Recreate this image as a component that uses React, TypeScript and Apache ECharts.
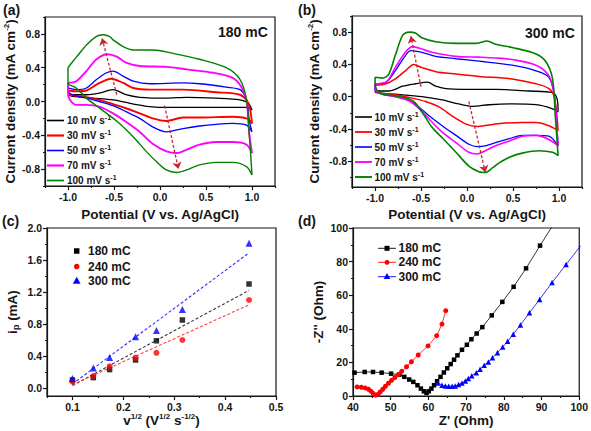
import React, { useEffect, useRef } from 'react';
import * as echarts from 'echarts';

const FONT = '"Liberation Sans", Arial, Helvetica, sans-serif';
const INK = '#151515';

// ---------- Panels (a) and (b): cyclic voltammograms ----------
const scanRates = ['10', '30', '50', '70', '100'];
const cvColors = ['#000000', '#ff0000', '#0000ff', '#ff00ff', '#008000'];
const cvWidthsA = [1.3, 1.9, 1.3, 1.9, 1.4];
const cvWidthsB = [1.3, 1.5, 1.3, 1.6, 1.6];

// panel (a) 180 mC, [potential V, current density mA cm-2], anodic branch then cathodic branch
const cvA10 = [[-1.0,0.08],[-0.8,0.08],[-0.66,0.1],[-0.51,0.14],[-0.37,0.08],[-0.22,0.05],[0.07,0.04],[0.29,0.05],[0.61,0.04],[0.87,0.02],[0.96,-0.02],[1.0,-0.1],
  [0.94,-0.07],[0.79,-0.07],[0.43,-0.07],[0.07,-0.07],[-0.11,-0.06],[-0.29,-0.03],[-0.51,0.02],[-0.73,0.04],[-0.95,0.06],[-1.0,0.08]];
const cvA30 = [[-1.0,0.13],[-0.91,0.12],[-0.8,0.13],[-0.69,0.2],[-0.53,0.27],[-0.4,0.22],[-0.29,0.16],[-0.11,0.14],[0.25,0.14],[0.61,0.11],[0.87,0.08],[0.96,-0.02],[1.0,-0.26],
  [0.94,-0.2],[0.79,-0.18],[0.43,-0.19],[0.25,-0.19],[0.07,-0.23],[-0.08,-0.2],[-0.22,-0.14],[-0.37,-0.08],[-0.51,-0.03],[-0.66,0.02],[-0.84,0.06],[-0.98,0.08],[-1.0,0.13]];
const cvA50 = [[-1.0,0.16],[-0.91,0.14],[-0.8,0.16],[-0.69,0.26],[-0.58,0.34],[-0.51,0.36],[-0.4,0.3],[-0.29,0.24],[-0.11,0.21],[0.25,0.22],[0.43,0.21],[0.72,0.17],[0.87,0.14],[0.94,0.02],[0.97,-0.22],[1.0,-0.36],
  [0.94,-0.28],[0.79,-0.26],[0.61,-0.27],[0.43,-0.29],[0.25,-0.32],[0.07,-0.36],[-0.08,-0.3],[-0.22,-0.2],[-0.37,-0.12],[-0.51,-0.05],[-0.66,0.0],[-0.8,0.04],[-0.95,0.08],[-1.0,0.12],[-1.0,0.16]];
const cvA70 = [[-1.0,0.22],[-0.91,0.24],[-0.8,0.36],[-0.69,0.5],[-0.57,0.56],[-0.47,0.53],[-0.37,0.46],[-0.22,0.42],[0.07,0.41],[0.29,0.38],[0.58,0.34],[0.79,0.28],[0.88,0.18],[0.94,0.02],[0.97,-0.38],[1.0,-0.61],
  [0.94,-0.51],[0.79,-0.48],[0.61,-0.48],[0.43,-0.51],[0.29,-0.57],[0.18,-0.61],[0.07,-0.59],[-0.08,-0.5],[-0.22,-0.36],[-0.37,-0.24],[-0.51,-0.14],[-0.66,-0.06],[-0.8,-0.04],[-0.91,-0.04],[-0.98,0.02],[-1.0,0.1],[-1.0,0.22]];
const cvA100 = [[-1.0,0.4],[-0.95,0.47],[-0.89,0.55],[-0.8,0.67],[-0.69,0.77],[-0.62,0.79],[-0.55,0.77],[-0.51,0.73],[-0.4,0.65],[-0.29,0.61],[-0.08,0.61],[0.14,0.57],[0.43,0.5],[0.72,0.4],[0.87,0.26],[0.94,0.02],[0.97,-0.38],[1.0,-0.87],
  [0.94,-0.77],[0.79,-0.72],[0.61,-0.72],[0.43,-0.75],[0.29,-0.81],[0.18,-0.84],[0.07,-0.81],[-0.04,-0.71],[-0.15,-0.59],[-0.29,-0.42],[-0.44,-0.26],[-0.58,-0.14],[-0.69,-0.05],[-0.8,0.04],[-0.91,0.16],[-1.0,0.22],[-1.0,0.4]];

// panel (b) 300 mC
const cvB10 = [[-1.0,0.07],[-0.85,0.07],[-0.7,0.13],[-0.56,0.16],[-0.43,0.18],[-0.34,0.13],[-0.23,0.1],[-0.05,0.09],[0.31,0.09],[0.67,0.07],[0.93,0.05],[0.98,-0.03],[0.99,-0.19],
  [0.93,-0.15],[0.75,-0.1],[0.49,-0.09],[0.24,-0.1],[0.06,-0.12],[-0.09,-0.09],[-0.27,-0.04],[-0.49,0.0],[-0.78,0.03],[-0.99,0.05],[-1.0,0.07]];
const cvB30 = [[-1.0,0.14],[-0.88,0.16],[-0.78,0.22],[-0.67,0.32],[-0.58,0.4],[-0.49,0.36],[-0.34,0.31],[-0.12,0.28],[0.13,0.25],[0.49,0.22],[0.75,0.16],[0.89,0.1],[0.95,-0.01],[0.99,-0.42],
  [0.89,-0.36],[0.75,-0.32],[0.6,-0.32],[0.38,-0.33],[0.24,-0.35],[0.11,-0.37],[-0.01,-0.34],[-0.16,-0.24],[-0.3,-0.13],[-0.45,-0.06],[-0.63,-0.01],[-0.81,0.03],[-0.96,0.05],[-1.0,0.14]];
const cvB50 = [[-1.0,0.16],[-0.88,0.18],[-0.78,0.32],[-0.67,0.51],[-0.61,0.57],[-0.49,0.55],[-0.34,0.5],[-0.12,0.47],[0.13,0.44],[0.49,0.39],[0.75,0.32],[0.89,0.24],[0.95,0.01],[0.98,-0.44],[0.99,-0.61],
  [0.89,-0.49],[0.75,-0.48],[0.6,-0.48],[0.46,-0.52],[0.31,-0.57],[0.2,-0.61],[0.11,-0.62],[0.02,-0.59],[-0.12,-0.48],[-0.27,-0.36],[-0.41,-0.24],[-0.52,-0.13],[-0.63,-0.05],[-0.78,0.0],[-0.92,0.03],[-1.0,0.08],[-1.0,0.16]];
const cvB70 = [[-1.0,0.16],[-0.88,0.18],[-0.78,0.36],[-0.67,0.55],[-0.59,0.62],[-0.49,0.59],[-0.38,0.55],[-0.12,0.5],[0.13,0.49],[0.31,0.48],[0.49,0.46],[0.75,0.39],[0.89,0.26],[0.95,0.01],[0.98,-0.44],[0.99,-0.61],
  [0.89,-0.53],[0.75,-0.48],[0.6,-0.49],[0.46,-0.55],[0.31,-0.61],[0.2,-0.67],[0.11,-0.71],[0.02,-0.69],[-0.12,-0.57],[-0.27,-0.44],[-0.41,-0.28],[-0.52,-0.15],[-0.63,-0.05],[-0.78,0.0],[-0.92,0.03],[-1.0,0.08],[-1.0,0.16]];
const cvB100 = [[-1.0,0.24],[-0.92,0.23],[-0.85,0.28],[-0.78,0.51],[-0.7,0.76],[-0.63,0.8],[-0.56,0.79],[-0.49,0.73],[-0.34,0.68],[-0.12,0.66],[0.09,0.66],[0.22,0.69],[0.31,0.65],[0.49,0.61],[0.75,0.53],[0.86,0.43],[0.93,0.22],[0.96,-0.24],[0.99,-0.73],
  [0.93,-0.69],[0.78,-0.67],[0.6,-0.7],[0.46,-0.75],[0.35,-0.82],[0.28,-0.88],[0.2,-0.94],[0.13,-0.93],[0.02,-0.86],[-0.12,-0.69],[-0.27,-0.51],[-0.38,-0.38],[-0.49,-0.19],[-0.59,-0.05],[-0.78,0.01],[-0.92,0.03],[-0.99,0.1],[-1.0,0.24]];

const cvA = [cvA10, cvA30, cvA50, cvA70, cvA100];
const cvB = [cvB10, cvB30, cvB50, cvB70, cvB100];

// dashed guide arrows (start -> end)
const arrowsA = [[[-0.47,0.08],[-0.63,0.75]], [[0.05,-0.05],[0.2,-0.8]]];
const arrowsB = [[[-0.5,0.12],[-0.61,0.75]], [[0.02,-0.06],[0.2,-0.94]]];

// ---------- Panel (c): peak current vs sqrt(scan rate) ----------
const vHalf = [0.1, 0.141, 0.173, 0.224, 0.265, 0.316, 0.447];
const ip180 = [0.10, 0.13, 0.23, 0.35, 0.59, 0.85, 1.30];
const ip240 = [0.08, 0.15, 0.27, 0.38, 0.44, 0.60, 1.10];
const ip300 = [0.12, 0.25, 0.38, 0.64, 0.72, 0.98, 1.81];
const fitX = [0.1, 0.447];
const fit180 = [0.03, 1.22];
const fit240 = [0.04, 1.04];
const fit300 = [0.05, 1.69];
const depNames = ['180 mC', '240 mC', '300 mC'];
const depColors = ['#000000', '#ff0000', '#0000ff'];
const depFitColors = ['#333333', '#ff4040', '#3030ff'];
const depSymbols = ['rect', 'circle', 'triangle'];

// ---------- Panel (d): Nyquist plots [Z', -Z''] ----------
const nyq180 = [[40.4,13.9],[43.1,14.3],[45.3,14.3],[47.6,13.9],[50.1,13.3],[52.3,12.7],[53.6,11.4],[54.9,9.8],[56.0,8.4],[57.1,6.4],[58.0,4.4],[58.8,2.8],[59.5,1.8],[60.1,2.8],[60.8,4.4],[61.5,6.4],
  [62.3,8.8],[63.2,11.4],[64.1,14.0],[65.0,16.5],[65.9,19.0],[66.8,21.6],[67.7,24.2],[68.9,27.5],[70.2,30.5],[71.4,33.8],[72.8,37.2],[74.3,41.0],[76.8,48.0],[79.6,56.0],[82.6,65.0],[85.9,76.0],[89.6,89.5],[93.4,103]];
const nyq240 = [[41.1,5.4],[42.2,5.2],[43.2,4.8],[44.1,4.0],[44.8,2.8],[45.4,1.4],[46.0,0.5],[46.6,1.0],[47.2,2.4],[47.9,4.0],[48.6,5.8],[49.4,7.6],[50.2,9.3],[51.1,11.0],[52.0,12.7],[52.9,14.7],
  [54.2,17.4],[55.5,20.4],[57.3,24.4],[59.9,29.8],[62.2,35.9],[63.6,42.8],[64.6,50.8]];
const nyq300 = [[62.5,7.8],[63.6,6.4],[64.5,6.0],[65.4,5.8],[66.3,5.8],[67.1,6.0],[68.0,6.8],[68.9,7.8],[69.8,9.0],[70.6,10.4],[71.5,12.0],[72.7,13.9],[73.7,15.9],[74.8,18.3],[75.9,20.3],[77.0,22.7],
  [78.3,25.8],[79.7,29.2],[81.0,32.6],[82.5,36.8],[84.4,42.3],[86.8,49.5],[89.5,57.5],[92.8,67.5],[96.5,78.2],[100.4,89.5]];
const nyq = [nyq180, nyq240, nyq300];

// ---------- axis ticks ----------
const cvXMajor = [-1.0, -0.5, 0, 0.5, 1.0];
const cvXMinor = [-1.25, -0.75, -0.25, 0.25, 0.75, 1.25];
const cvYMajor = [-0.8, -0.4, 0, 0.4, 0.8];
const cvYMinor = [-1.0, -0.6, -0.2, 0.2, 0.6, 1.0];
const cXMajor = [0.1, 0.2, 0.3, 0.4, 0.5];
const cXMinor = [0.05, 0.15, 0.25, 0.35, 0.45];
const cYMajor = [0, 0.4, 0.8, 1.2, 1.6, 2.0];
const cYMinor = [0.2, 0.6, 1.0, 1.4, 1.8];
const dXMajor = [40, 50, 60, 70, 80, 90, 100];
const dXMinor = [45, 55, 65, 75, 85, 95];
const dYMajor = [0, 20, 40, 60, 80, 100];
const dYMinor = [10, 30, 50, 70, 90];

const grids = [
  { left: 45, top: 17, width: 230, height: 169 },
  { left: 352, top: 16, width: 230, height: 171 },
  { left: 47, top: 228, width: 229, height: 168 },
  { left: 353, top: 228, width: 229, height: 168 },
];

const supRich = {
  sup: { fontSize: 8, lineHeight: 8, verticalAlign: 'top', fontWeight: 'bold', fontFamily: FONT, color: INK },
  sub: { fontSize: 9, lineHeight: 8, verticalAlign: 'bottom', fontWeight: 'bold', fontFamily: FONT, color: INK },
};
const nameStyle = { fontSize: 13.5, fontWeight: 'bold', fontFamily: FONT, color: INK, lineHeight: 16, rich: supRich };

function axisPair(isY: boolean, gi: number, min: number, max: number, majors: number[], minors: number[],
  fmt: (v: number) => string, name: string, nameGap: number) {
  const line = { color: INK, width: 1.2 };
  const main: any = {
    type: 'value', gridIndex: gi, min, max, position: isY ? 'left' : 'bottom',
    axisLine: { show: true, onZero: false, lineStyle: line },
    axisTick: { show: true, inside: false, length: 4, customValues: majors, lineStyle: line },
    axisLabel: { customValues: majors, formatter: fmt, margin: 5, fontSize: 10.5, fontWeight: 'bold', fontFamily: FONT, color: INK },
    splitLine: { show: false },
    name, nameLocation: 'middle', nameGap, nameTextStyle: nameStyle,
  };
  const minor: any = {
    type: 'value', gridIndex: gi, min, max, position: isY ? 'left' : 'bottom',
    axisLine: { show: false, onZero: false },
    axisTick: { show: true, inside: false, length: 2, customValues: minors, lineStyle: line },
    axisLabel: { show: false },
    splitLine: { show: false },
  };
  return [main, minor];
}

const f1 = (v: number) => v.toFixed(1);
const f0 = (v: number) => String(Math.round(v));

function buildOption() {
  const xAxis = [
    ...axisPair(false, 0, -1.25, 1.25, cvXMajor, cvXMinor, f1, 'Potential (V vs. Ag/AgCl)', 20),
    ...axisPair(false, 1, -1.25, 1.25, cvXMajor, cvXMinor, f1, 'Potential (V vs. Ag/AgCl)', 19),
    ...axisPair(false, 2, 0.05, 0.5, cXMajor, cXMinor, f1, 'v{sup|1/2} (V{sup|1/2} s{sup|-1/2})', 14),
    ...axisPair(false, 3, 40, 100, dXMajor, dXMinor, f0, "Z' (Ohm)", 14),
  ];
  const yAxis = [
    ...axisPair(true, 0, -1.0, 1.0, cvYMajor, cvYMinor, f1, 'Current density (mA cm{sup|-2})', 26),
    ...axisPair(true, 1, -1.12, 1.0, cvYMajor, cvYMinor, f1, 'Current density (mA cm{sup|-2})', 30),
    ...axisPair(true, 2, -0.1, 2.0, cYMajor, cYMinor, f1, 'i{sub|p} (mA)', 27),
    ...axisPair(true, 3, 0, 100, dYMajor, dYMinor, f0, "-Z'' (Ohm)", 19),
  ];

  const series: any[] = [];
  const addCV = (curves: number[][][], ax: number, widths: number[], tag: string) => {
    curves.forEach((c, i) => {
      series.push({
        type: 'line', name: `${tag} ${scanRates[i]} mV/s`, xAxisIndex: ax, yAxisIndex: ax,
        data: c, showSymbol: false, symbol: 'none', smooth: 0.3,
        lineStyle: { color: cvColors[i], width: widths[i] }, z: 2 + i,
      });
    });
  };
  addCV(cvA, 0, cvWidthsA, 'a');
  addCV(cvB, 2, cvWidthsB, 'b');
  const addArrows = (arr: number[][][], ax: number) => {
    series.push({
      type: 'lines', coordinateSystem: 'cartesian2d', xAxisIndex: ax, yAxisIndex: ax,
      data: arr.map((c) => ({ coords: c })), symbol: ['none', 'arrow'], symbolSize: 7,
      lineStyle: { color: '#c4262e', width: 1.3, type: [3, 2], opacity: 1 }, z: 10,
    });
  };
  addArrows(arrowsA, 0);
  addArrows(arrowsB, 2);

  const ips = [ip180, ip240, ip300];
  const fits = [fit180, fit240, fit300];
  fits.forEach((f, i) => {
    series.push({
      type: 'line', name: `fit ${depNames[i]}`, xAxisIndex: 4, yAxisIndex: 4,
      data: fitX.map((x, k) => [x, f[k]]), showSymbol: false, symbol: 'none',
      lineStyle: { color: depFitColors[i], width: 1.1, type: [3, 2] }, z: 2,
    });
  });
  ips.forEach((ys, i) => {
    series.push({
      type: 'scatter', name: `c ${depNames[i]}`, xAxisIndex: 4, yAxisIndex: 4,
      data: vHalf.map((x, k) => [x, ys[k]]), symbol: depSymbols[i], symbolSize: i === 0 ? 5.5 : i === 1 ? 6 : 7,
      itemStyle: { color: depColors[i] }, z: 4 + i,
    });
  });
  nyq.forEach((d, i) => {
    series.push({
      type: 'line', name: `d ${depNames[i]}`, xAxisIndex: 6, yAxisIndex: 6,
      data: d, symbol: depSymbols[i], symbolSize: i === 0 ? 4.5 : i === 1 ? 5 : 5.5, showSymbol: true, clip: true,
      lineStyle: { color: depColors[i], width: 0.8 }, itemStyle: { color: depColors[i] }, z: 3 + i,
    });
  });

  // ---------- graphic: panel letters, tags, legends ----------
  const graphic: any[] = [];
  const txt = (x: number, y: number, text: string, size: number, extra: any = {}) => ({
    type: 'text', x, y, silent: true,
    style: {
      text, fontSize: size, fontWeight: 'bold', fontFamily: FONT, fill: INK, lineHeight: size + 3,
      align: 'left', verticalAlign: 'middle', textAlign: 'left', textVerticalAlign: 'middle',
      rich: {
        sup: { fontSize: Math.round(size * 0.7), lineHeight: Math.round(size * 0.7), verticalAlign: 'top', fontWeight: 'bold', fontFamily: FONT, fill: INK },
      },
      ...extra,
    },
  });
  graphic.push(txt(3, 10, '(a)', 14));
  graphic.push(txt(298, 10, '(b)', 14));
  graphic.push(txt(2, 221, '(c)', 14));
  graphic.push(txt(298, 221, '(d)', 14));
  graphic.push(txt(218, 32, '180 mC', 14));
  graphic.push(txt(525, 32.5, '300 mC', 14));

  const cvLegend = (x1: number, x2: number, tx: number, rows: number[], widths: number[]) => {
    rows.forEach((y, i) => {
      graphic.push({ type: 'line', silent: true, shape: { x1, y1: y, x2, y2: y }, style: { stroke: cvColors[i], lineWidth: widths[i] + 0.3 } });
      graphic.push(txt(tx, y, `${scanRates[i]} mV s{sup|-1}`, 10));
    });
  };
  cvLegend(47, 64, 67, [120.5, 135.5, 150.5, 165.5, 180.5], cvWidthsA);
  cvLegend(355, 372, 374.5, [117, 132, 147, 162, 177], cvWidthsB);

  const marker = (i: number, cx: number, cy: number, s: number) => {
    if (i === 0) return { type: 'rect', silent: true, shape: { x: cx - s / 2, y: cy - s / 2, width: s, height: s }, style: { fill: depColors[i] } };
    if (i === 1) return { type: 'circle', silent: true, shape: { cx, cy, r: s / 2 }, style: { fill: depColors[i] } };
    return { type: 'polygon', silent: true, shape: { points: [[cx, cy - s * 0.6], [cx - s * 0.55, cy + s * 0.4], [cx + s * 0.55, cy + s * 0.4]] }, style: { fill: depColors[i] } };
  };
  [251, 266.5, 281].forEach((y, i) => {
    graphic.push(marker(i, 76.7, y, i === 2 ? 7 : 5.5));
    graphic.push(txt(88, y, depNames[i], 12));
  });
  [248.3, 262.3, 276.7].forEach((y, i) => {
    graphic.push({ type: 'line', silent: true, shape: { x1: 378, y1: y, x2: 396, y2: y }, style: { stroke: depColors[i], lineWidth: 0.9 } });
    graphic.push(marker(i, 387, y, i === 2 ? 6 : 5));
    graphic.push(txt(398.5, y, depNames[i], 12));
  });

  return {
    animation: false,
    backgroundColor: '#ffffff',
    textStyle: { fontFamily: FONT },
    grid: grids.map((g) => ({ ...g, show: true, borderColor: INK, borderWidth: 1.2, backgroundColor: 'transparent', containLabel: false })),
    xAxis,
    yAxis,
    series,
    graphic,
  };
}

export default function App() {
  const ref = useRef<HTMLDivElement>(null);
  useEffect(() => {
    document.body.style.margin = '0';
    if (!ref.current) return;
    const chart = echarts.init(ref.current, undefined, { renderer: 'svg' });
    chart.setOption(buildOption() as any);
    return () => chart.dispose();
  }, []);
  return <div ref={ref} style={{ position: 'absolute', left: 0, top: 0, width: 591, height: 431 }} />;
}
